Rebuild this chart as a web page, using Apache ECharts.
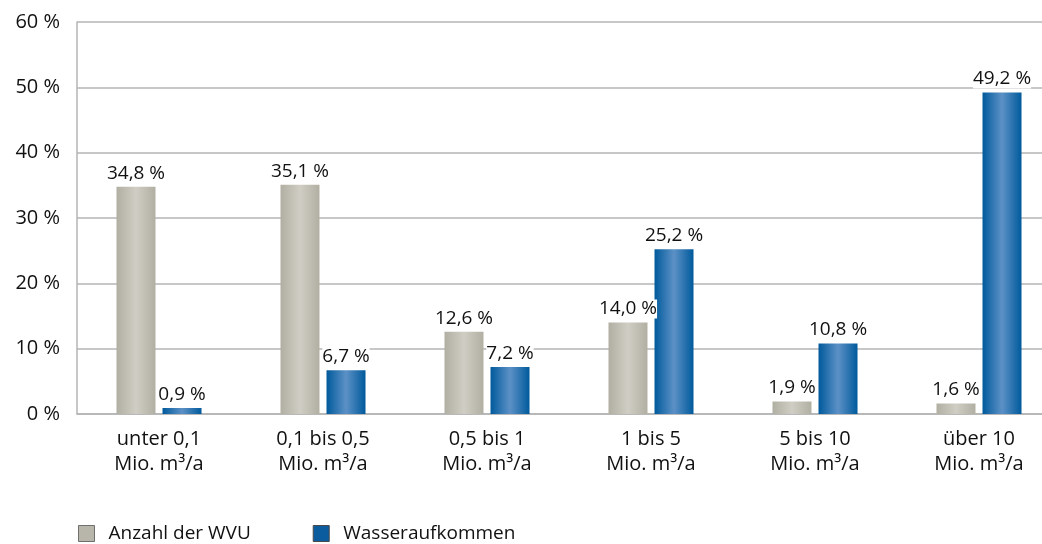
<!DOCTYPE html>
<html>
<head>
<meta charset="utf-8">
<script src="https://cdn.jsdelivr.net/npm/echarts@6/dist/echarts.min.js"></script>
<style>
  html, body { margin: 0; padding: 0; background: #fff; }
  #chart { width: 1042px; height: 544px; }
</style>
</head>
<body>
<div id="chart"></div>
<script>
  // ===== Data =====
  const categories = [
    'unter 0,1\nMio. m³/a',
    '0,1 bis 0,5\nMio. m³/a',
    '0,5 bis 1\nMio. m³/a',
    '1 bis 5\nMio. m³/a',
    '5 bis 10\nMio. m³/a',
    'über 10\nMio. m³/a'
  ];
  const anzahlWVU = [34.8, 35.1, 12.6, 14.0, 1.9, 1.6];
  const wasseraufkommen = [0.9, 6.7, 7.2, 25.2, 10.8, 49.2];
  const seriesNames = ['Anzahl der WVU', 'Wasseraufkommen'];

  const FONT = '"Open Sans", "Noto Sans", sans-serif';
  const COLOR_TEXT = '#111111';
  const COLOR_LINE = '#b4b4b4';

  function hGrad(edge, mid) {
    return { type: 'linear', x: 0, y: 0, x2: 1, y2: 0, colorStops: [
      { offset: 0, color: edge }, { offset: 0.5, color: mid }, { offset: 1, color: edge }
    ]};
  }
  const GRAY = hGrad('#b1afa2', '#d0cec4');
  const BLUE = hGrad('#005a9c', '#5c91c6');

  const fmt = v => v.toFixed(1).replace('.', ',') + ' %';

  function barSeries(name, data, color) {
    return {
      name, type: 'bar', data, barWidth: 39, barGap: '18%',
      itemStyle: { color },
      label: {
        show: true, position: 'top', distance: 4,
        formatter: p => fmt(p.value),
        color: COLOR_TEXT, fontFamily: FONT, fontSize: 19,
        backgroundColor: '#fff', padding: [0, 0]
      }
    };
  }

  const chart = echarts.init(document.getElementById('chart'));
  chart.setOption({
    animation: false,
    grid: { left: 77, top: 22, width: 984, height: 392, outerBoundsMode: 'none', containLabel: false },
    legend: {
      left: 78, top: 524, padding: 0, itemWidth: 16, itemHeight: 16, itemGap: 62,
      icon: 'rect',
      data: [
        { name: seriesNames[0], itemStyle: { color: '#b8b6aa', borderColor: '#6f6f6f', borderWidth: 1 } },
        { name: seriesNames[1], itemStyle: { color: '#0b5c9e', borderColor: '#4a4a4a', borderWidth: 1 } }
      ],
      textStyle: { color: COLOR_TEXT, fontFamily: FONT, fontSize: 19, padding: [0, 0, 0, 9] }
    },
    xAxis: {
      type: 'category', data: categories,
      axisLine: { lineStyle: { color: COLOR_LINE, width: 1.5 } },
      axisTick: { show: false },
      axisLabel: { color: COLOR_TEXT, fontFamily: FONT, fontSize: 20, lineHeight: 25, margin: 13, interval: 0 }
    },
    yAxis: {
      type: 'value', min: 0, max: 60, interval: 10,
      axisLine: { show: true, lineStyle: { color: COLOR_LINE, width: 1.5 } },
      axisTick: { show: false },
      axisLabel: { color: COLOR_TEXT, fontFamily: FONT, fontSize: 20, margin: 17, formatter: '{value} %' },
      splitLine: { lineStyle: { color: COLOR_LINE, width: 1.5 } }
    },
    series: [
      barSeries(seriesNames[0], anzahlWVU, GRAY),
      barSeries(seriesNames[1], wasseraufkommen, BLUE)
    ]
  });
</script>
</body>
</html>
